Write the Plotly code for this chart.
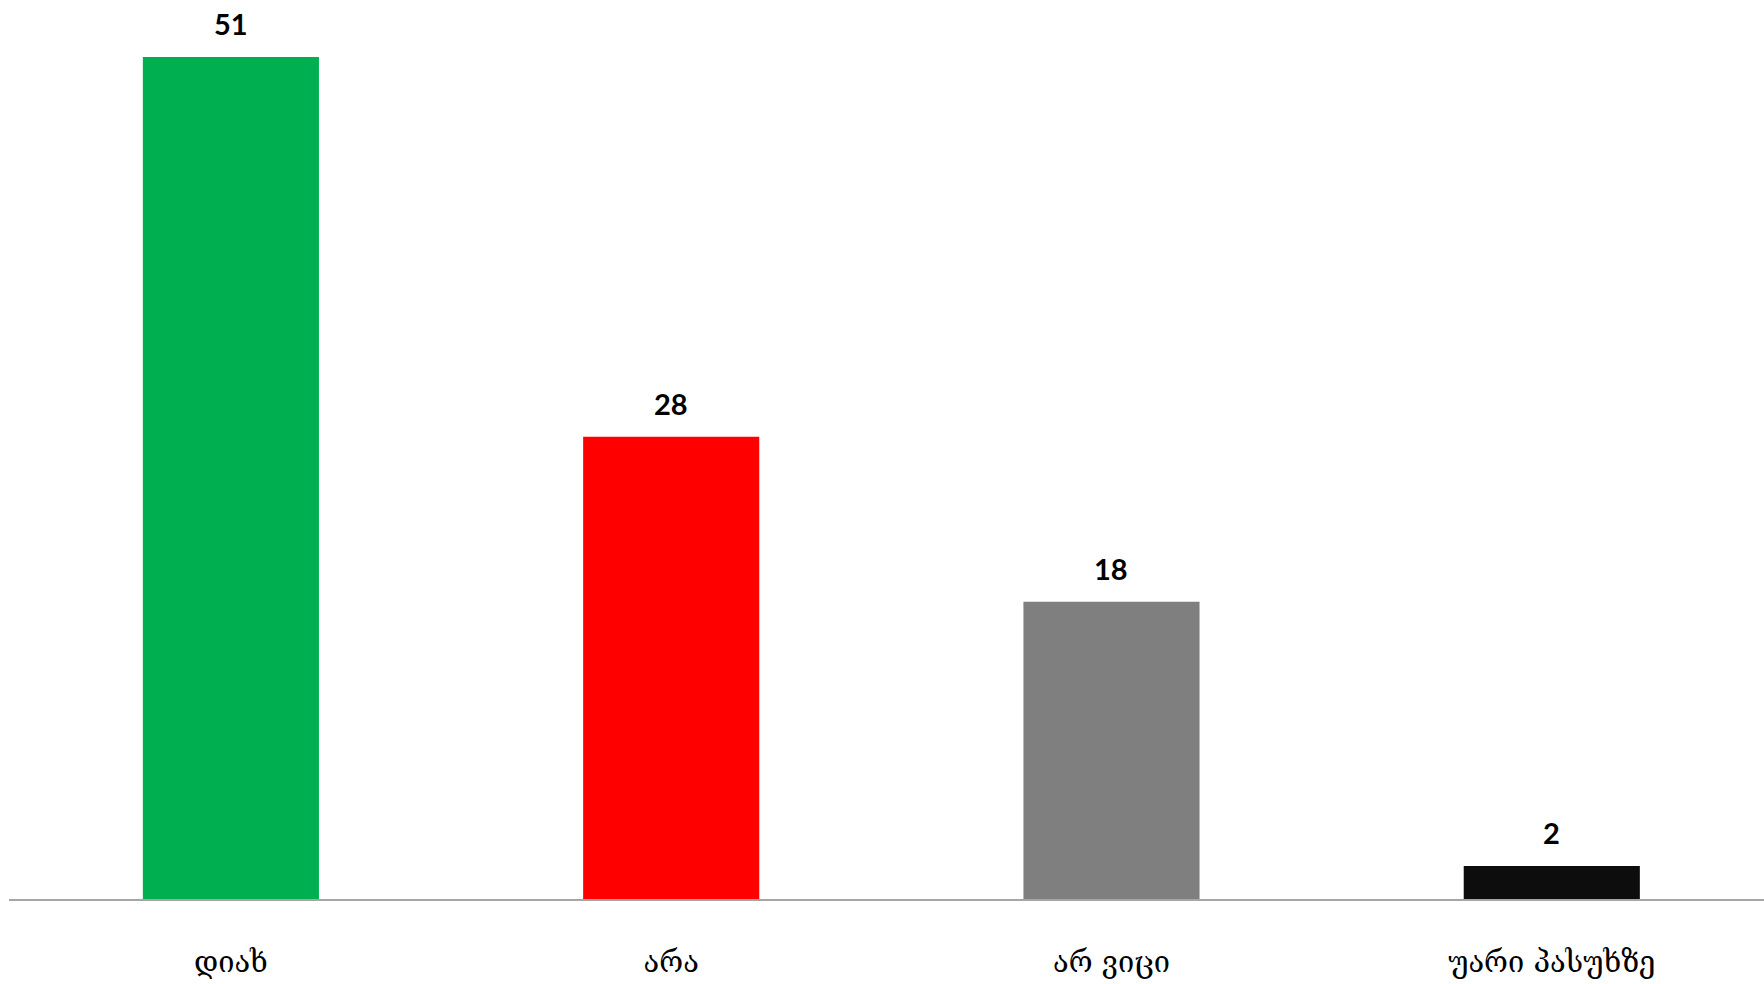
import plotly.graph_objects as go

categories = ["დიახ", "არა", "არ ვიცი", "უარი პასუხზე"]
values = [51, 28, 18, 2]
colors = ["#00B050", "#FF0000", "#7F7F7F", "#0D0D0D"]

fig = go.Figure()
fig.add_trace(go.Bar(
    x=list(range(len(categories))),
    y=values,
    width=0.4,
    marker=dict(color=colors, line=dict(width=0)),
    hoverinfo="skip",
))

for i, v in enumerate(values):
    fig.add_annotation(
        x=i, y=v, text=f"<b>{v}</b>", showarrow=False,
        yanchor="bottom", yshift=14,
        font=dict(family="Lato, Open Sans, sans-serif", size=29, color="#000000"),
    )

fig.update_layout(
    width=1764, height=984,
    margin=dict(l=9, r=0, t=7, b=85),
    paper_bgcolor="white", plot_bgcolor="white",
    showlegend=False,
    xaxis=dict(
        range=[-0.504, 3.482],
        tickmode="array",
        tickvals=list(range(len(categories))),
        ticktext=categories,
        showgrid=False, zeroline=False,
        showline=True, linecolor="#A6A6A6", linewidth=2,
        ticks="", ticklabelstandoff=36,
        tickfont=dict(family="DejaVu Serif, DejaVu Sans, serif", size=29, color="#000000"),
    ),
    yaxis=dict(
        range=[0, 54.03],
        visible=False, showgrid=False, zeroline=False,
    ),
)

fig.write_html(
    "out.html",
    config={"displayModeBar": False},
    post_script="document.body.style.margin='0px';document.body.style.overflow='hidden';",
)
